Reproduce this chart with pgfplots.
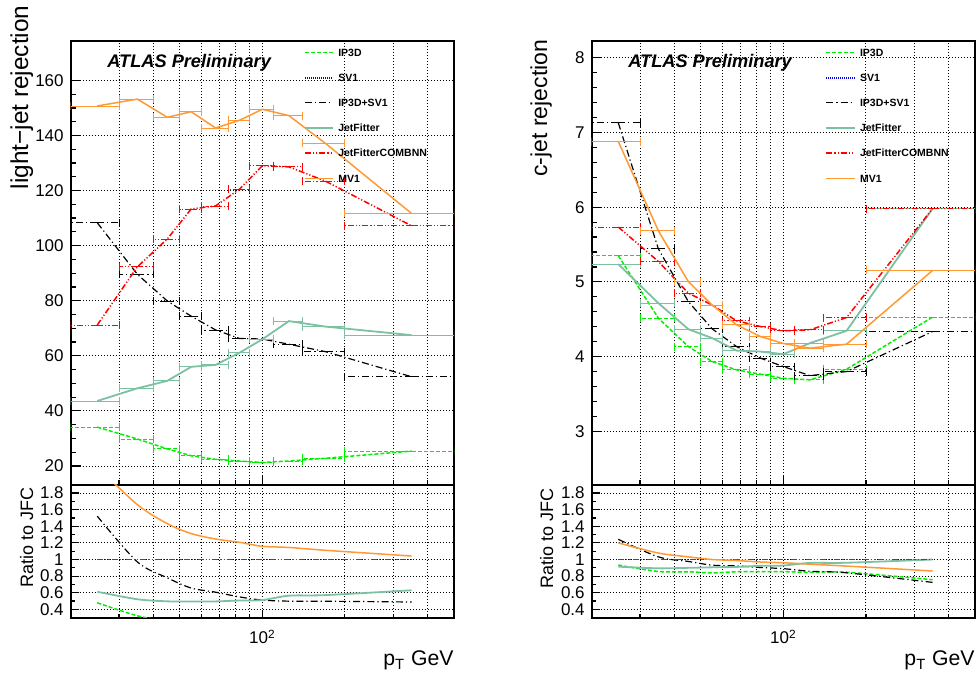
\documentclass[border=0pt]{standalone}
\usepackage{fontspec}
\setmainfont{Liberation Sans}
\usepackage{pgfplots}
\pgfplotsset{compat=1.18}
\usepackage{pgfplotstable}

\definecolor{ipgreen}{RGB}{0,240,0}
\definecolor{jfgreen}{RGB}{125,192,162}
\definecolor{mvorange}{RGB}{255,153,51}

% light-jet rejection per pT bin (bin centre, half width)
\pgfplotstableread{
x     ex   ip3d  ipsv1  jf    jfc    mv1
25    5    34.1  108.3  43.6  71.2   150.7
35    5    29.8  89.6   48.2  92.3   153.2
45    5    26.2  79.9   50.9  102.4  146.6
55    5    23.7  74.4   56.0  113.3  148.6
67.5  7.5  22.4  69.4   56.7  114.4  142.7
82.5  7.5  21.8  66.3   61.1  120.5  145.5
100   10   21.3  66.1   66.0  129.0  149.5
125   15   21.8  64.2   72.6  128.6  147.2
170   30   22.8  61.5   70.6  123.4  137.1
350   150  25.4  52.4   67.5  107.2  111.7
}\light

\pgfplotstableread{
x     ip3d   ipsv1  jf     jfc  mv1
25    0.479  1.521  0.612  1    2.117
35    0.323  0.971  0.522  1    1.660
45    0.256  0.780  0.497  1    1.432
55    0.209  0.657  0.494  1    1.312
67.5  0.196  0.607  0.496  1    1.247
82.5  0.181  0.550  0.507  1    1.207
100   0.165  0.512  0.512  1    1.159
125   0.170  0.499  0.565  1    1.145
170   0.185  0.498  0.572  1    1.111
350   0.237  0.489  0.630  1    1.042
}\lightratio

% c-jet rejection
\pgfplotstableread{
x     ex   ip3d   ipsv1  jf     jfc    mv1
25    5    5.350  7.130  5.238  5.734  6.880
35    5    4.515  5.443  4.716  5.274  5.685
45    5    4.134  4.737  4.367  4.850  5.005
55    5    3.933  4.371  4.247  4.690  4.690
67.5  7.5  3.822  4.134  4.080  4.479  4.425
82.5  7.5  3.764  3.979  4.067  4.402  4.268
100   10   3.710  3.866  4.032  4.345  4.175
125   15   3.688  3.745  4.180  4.358  4.113
170   30   3.831  3.799  4.345  4.523  4.166
350   150  4.528  4.335  5.980  5.980  5.153
}\charm

\pgfplotstableread{
x     ip3d   ipsv1  jf     jfc  mv1
25    0.933  1.243  0.914  1    1.200
35    0.856  1.032  0.894  1    1.078
45    0.852  0.977  0.900  1    1.032
55    0.839  0.932  0.906  1    1.000
67.5  0.853  0.923  0.911  1    0.988
82.5  0.855  0.904  0.924  1    0.970
100   0.854  0.890  0.928  1    0.961
125   0.846  0.859  0.959  1    0.944
170   0.847  0.840  0.961  1    0.921
350   0.757  0.725  1.000  1    0.862
}\charmratio

\tikzset{
  sIP/.style={ipgreen, line width=0.75pt, dash pattern=on 2pt off 1pt},
  sSV/.style={blue, line width=0.75pt, dash pattern=on 0.5pt off 0.5pt},
  sIPSV/.style={black, line width=0.6pt, dash pattern=on 3.5pt off 1.5pt on 0.6pt off 1.5pt},
  sJF/.style={jfgreen, line width=0.9pt},
  sJFC/.style={red, line width=0.75pt, dash pattern=on 3pt off 1pt on 0.6pt off 1pt on 0.6pt off 1pt},
  sMV/.style={mvorange, line width=0.75pt},
  legtext/.style={anchor=base west, inner sep=0pt, yshift=-1.9pt,
    font=\fontsize{5.25}{6}\selectfont\bfseries},
  atlastext/.style={anchor=west, inner sep=0pt,
    font=\fontsize{9.1}{11}\selectfont\bfseries\itshape},
}

\begin{document}
\begin{tikzpicture}
\useasboundingbox (0,0) rectangle (488.5pt,337.5pt);

% ---- light-jet rejection ----
\begin{axis}[
  xmode=log, xmin=20, xmax=500,
  scale only axis, width=191.65pt, height=222pt,
  xtick={100}, xticklabels={},
  minor xtick={20,30,40,50,60,70,80,90,200,300,400,500},
  ymin=13.2, ymax=174.4, ytick={20,40,...,160}, minor y tick num=3,
  axis line style={line width=1pt},
  tick align=inside, xtick pos=left, ytick pos=left,
  tick style={black, line width=0.6pt},
  major tick length=5pt, minor tick length=2.5pt,
  xmajorgrids, xminorgrids, ymajorgrids,
  grid style={black, line width=0.45pt, dash pattern=on 0.5pt off 1pt},
  /pgf/number format/assume math mode=true,
  tick label style={font=\fontsize{8.5}{10}\selectfont},
  ylabel={light−jet rejection},
  ylabel style={at={(axis description cs:-0.1114,1.080)}, anchor=base east,
    inner sep=0pt, font=\fontsize{12.2}{14}\selectfont},
  at={(35.35pt,95.15pt)}, anchor=south west]
\addplot[sIP, error bars/.cd, x dir=both, x explicit] table[x=x, y=ip3d, x error=ex] {\light};
\addplot[sIPSV, error bars/.cd, x dir=both, x explicit] table[x=x, y=ipsv1, x error=ex] {\light};
\addplot[sJF, error bars/.cd, x dir=both, x explicit] table[x=x, y=jf, x error=ex] {\light};
\addplot[sJFC, error bars/.cd, x dir=both, x explicit] table[x=x, y=jfc, x error=ex] {\light};
\addplot[sMV, error bars/.cd, x dir=both, x explicit] table[x=x, y=mv1, x error=ex] {\light};
\node[atlastext] at (axis description cs:0.0947,0.95) {ATLAS Preliminary};
% legend
\draw[sIP] (axis description cs:0.611,0.973) -- (axis description cs:0.684,0.973);
\node[legtext] at (axis description cs:0.697,0.973) {IP3D};
\draw[sSV] (axis description cs:0.611,0.916) -- (axis description cs:0.684,0.916);
\node[legtext] at (axis description cs:0.697,0.916) {SV1};
\draw[sIPSV] (axis description cs:0.611,0.860) -- (axis description cs:0.684,0.860);
\node[legtext] at (axis description cs:0.697,0.860) {IP3D+SV1};
\draw[sJF] (axis description cs:0.611,0.803) -- (axis description cs:0.684,0.803);
\node[legtext] at (axis description cs:0.697,0.803) {JetFitter};
\draw[sJFC] (axis description cs:0.611,0.747) -- (axis description cs:0.684,0.747);
\node[legtext] at (axis description cs:0.697,0.747) {JetFitterCOMBNN};
\draw[sMV] (axis description cs:0.611,0.690) -- (axis description cs:0.684,0.690);
\node[legtext] at (axis description cs:0.697,0.690) {MV1};
\end{axis}

\begin{axis}[
  xmode=log, xmin=20, xmax=500,
  scale only axis, width=191.65pt, height=66.5pt,
  xtick={100}, xticklabels={10\textsuperscript{2}},
  minor xtick={20,30,40,50,60,70,80,90,200,300,400,500},
  ymin=0.3, ymax=1.9,
  ytick={0.4,0.6,0.8,1,1.2,1.4,1.6,1.8},
  yticklabels={0.4,0.6,0.8,1,1.2,1.4,1.6,1.8},
  minor y tick num=1,
  axis line style={line width=1pt},
  tick align=inside, xtick pos=left, ytick pos=left,
  tick style={black, line width=0.6pt},
  major tick length=4pt, minor tick length=2pt,
  xmajorgrids, xminorgrids, ymajorgrids,
  grid style={black, line width=0.45pt, dash pattern=on 0.5pt off 1pt},
  tick label style={font=\fontsize{8.5}{10}\selectfont},
  xticklabel style={yshift=-2.5pt},
  xlabel={p\textsubscript{T} GeV},
  xlabel style={at={(axis description cs:1,-0.363)}, anchor=base east,
    inner sep=0pt, font=\fontsize{10.6}{13}\selectfont},
  ylabel={Ratio to JFC},
  ylabel style={at={(axis description cs:-0.098,0.985)}, anchor=base east,
    inner sep=0pt, font=\fontsize{9}{11}\selectfont},
  at={(35.35pt,28.65pt)}, anchor=south west]
\addplot[sIP, smooth] table[x=x, y=ip3d] {\lightratio};
\addplot[sIPSV, smooth] table[x=x, y=ipsv1] {\lightratio};
\addplot[sJF, smooth] table[x=x, y=jf] {\lightratio};
\addplot[sJFC] table[x=x, y=jfc] {\lightratio};
\addplot[sMV, smooth] table[x=x, y=mv1] {\lightratio};
\end{axis}

% ---- c-jet rejection ----
\begin{axis}[
  xmode=log, xmin=20, xmax=500,
  scale only axis, width=191.65pt, height=222pt,
  xtick={100}, xticklabels={},
  minor xtick={20,30,40,50,60,70,80,90,200,300,400,500},
  ymin=2.284, ymax=8.23, ytick={3,4,5,6,7,8}, minor y tick num=4,
  axis line style={line width=1pt},
  tick align=inside, xtick pos=left, ytick pos=left,
  tick style={black, line width=0.6pt},
  major tick length=5pt, minor tick length=2.5pt,
  xmajorgrids, xminorgrids, ymajorgrids,
  grid style={black, line width=0.45pt, dash pattern=on 0.5pt off 1pt},
  /pgf/number format/assume math mode=true,
  tick label style={font=\fontsize{8.5}{10}\selectfont},
  ylabel={c-jet rejection},
  ylabel style={at={(axis description cs:-0.1164,1.003)}, anchor=base east,
    inner sep=0pt, font=\fontsize{11.5}{14}\selectfont},
  at={(295.85pt,95.15pt)}, anchor=south west]
\addplot[sIP, error bars/.cd, x dir=both, x explicit] table[x=x, y=ip3d, x error=ex] {\charm};
\addplot[sIPSV, error bars/.cd, x dir=both, x explicit] table[x=x, y=ipsv1, x error=ex] {\charm};
\addplot[sJF, error bars/.cd, x dir=both, x explicit] table[x=x, y=jf, x error=ex] {\charm};
\addplot[sJFC, error bars/.cd, x dir=both, x explicit] table[x=x, y=jfc, x error=ex] {\charm};
\addplot[sMV, error bars/.cd, x dir=both, x explicit] table[x=x, y=mv1, x error=ex] {\charm};
\node[atlastext] at (axis description cs:0.0945,0.95) {ATLAS Preliminary};
% legend
\draw[sIP] (axis description cs:0.612,0.973) -- (axis description cs:0.686,0.973);
\node[legtext] at (axis description cs:0.699,0.973) {IP3D};
\draw[sSV] (axis description cs:0.612,0.916) -- (axis description cs:0.686,0.916);
\node[legtext] at (axis description cs:0.699,0.916) {SV1};
\draw[sIPSV] (axis description cs:0.612,0.860) -- (axis description cs:0.686,0.860);
\node[legtext] at (axis description cs:0.699,0.860) {IP3D+SV1};
\draw[sJF] (axis description cs:0.612,0.803) -- (axis description cs:0.686,0.803);
\node[legtext] at (axis description cs:0.699,0.803) {JetFitter};
\draw[sJFC] (axis description cs:0.612,0.747) -- (axis description cs:0.686,0.747);
\node[legtext] at (axis description cs:0.699,0.747) {JetFitterCOMBNN};
\draw[sMV] (axis description cs:0.612,0.690) -- (axis description cs:0.686,0.690);
\node[legtext] at (axis description cs:0.699,0.690) {MV1};
\end{axis}

\begin{axis}[
  xmode=log, xmin=20, xmax=500,
  scale only axis, width=191.65pt, height=66.5pt,
  xtick={100}, xticklabels={10\textsuperscript{2}},
  minor xtick={20,30,40,50,60,70,80,90,200,300,400,500},
  ymin=0.3, ymax=1.9,
  ytick={0.4,0.6,0.8,1,1.2,1.4,1.6,1.8},
  yticklabels={0.4,0.6,0.8,1,1.2,1.4,1.6,1.8},
  minor y tick num=1,
  axis line style={line width=1pt},
  tick align=inside, xtick pos=left, ytick pos=left,
  tick style={black, line width=0.6pt},
  major tick length=4pt, minor tick length=2pt,
  xmajorgrids, xminorgrids, ymajorgrids,
  grid style={black, line width=0.45pt, dash pattern=on 0.5pt off 1pt},
  tick label style={font=\fontsize{8.5}{10}\selectfont},
  xticklabel style={yshift=-2.5pt},
  xlabel={p\textsubscript{T} GeV},
  xlabel style={at={(axis description cs:1,-0.363)}, anchor=base east,
    inner sep=0pt, font=\fontsize{10.6}{13}\selectfont},
  ylabel={Ratio to JFC},
  ylabel style={at={(axis description cs:-0.1006,0.973)}, anchor=base east,
    inner sep=0pt, font=\fontsize{9}{11}\selectfont},
  at={(295.85pt,28.65pt)}, anchor=south west]
\addplot[sIP, smooth] table[x=x, y=ip3d] {\charmratio};
\addplot[sIPSV, smooth] table[x=x, y=ipsv1] {\charmratio};
\addplot[sJF, smooth] table[x=x, y=jf] {\charmratio};
\addplot[sJFC] table[x=x, y=jfc] {\charmratio};
\addplot[sMV, smooth] table[x=x, y=mv1] {\charmratio};
\end{axis}
\end{tikzpicture}
\end{document}
